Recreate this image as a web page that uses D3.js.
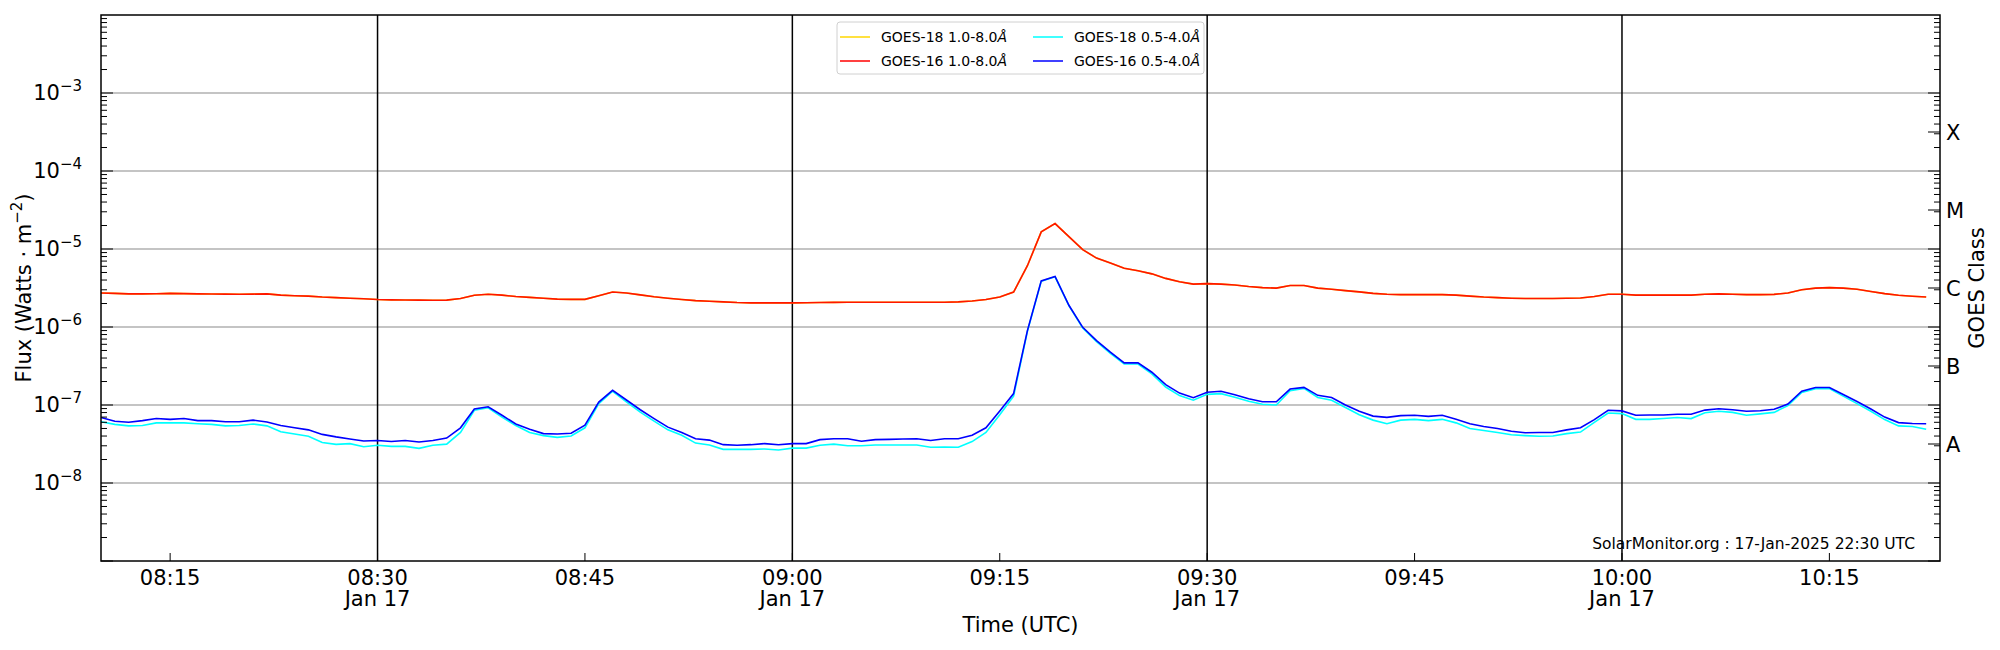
<!DOCTYPE html>
<html><head><meta charset="utf-8">
<script src="https://cdn.jsdelivr.net/npm/d3@7"></script>
<style>body{margin:0;background:#fff;} text{font-family:"DejaVu Sans",sans-serif;}</style>
</head><body><svg id="c" width="2000" height="650"></svg>
<script>
// one-minute samples starting 08:10 UTC, 17 Jan 2025
const startTime = "2025-01-17T08:10:00Z";
const unitLong = 1e-6, unitShort = 1e-8;
const goes16Long = [2.73,2.7,2.66,2.66,2.67,2.7,2.68,2.66,2.65,2.64,2.63,2.64,2.66,
2.56,2.52,2.49,2.42,2.38,2.34,2.3,2.25,2.23,2.22,2.21,2.2,2.21,
2.32,2.55,2.63,2.56,2.46,2.4,2.34,2.28,2.26,2.26,
2.52,2.81,2.73,2.58,2.44,2.34,2.25,2.18,2.14,2.1,2.06,2.04,2.04,2.04,2.04,
2.05,2.06,2.07,2.08,2.08,2.08,2.08,2.08,2.08,2.08,2.08,2.1,2.15,2.25,
2.43,2.8,6.1,16.6,21.2,14.4,9.8,7.65,6.6,5.65,5.25,4.8,4.2,3.8,3.55,3.6,3.55,3.45,3.3,3.2,3.15,3.4,3.4,3.15,
3.05,2.93,2.82,2.7,2.63,2.6,2.6,2.6,2.6,2.56,2.49,2.42,2.38,2.34,2.32,2.32,2.32,2.34,2.35,2.46,2.63,2.63,2.56,2.56,2.56,2.56,2.56,2.63,2.66,2.63,2.6,2.6,2.62,
2.73,3.0,3.15,3.2,3.15,3.05,2.85,2.68,2.55,2.48,2.42];
const goes18Long = goes16Long.slice();
const goes16Short = [6.9,6.2,6.0,6.3,6.7,6.55,6.7,6.3,6.3,6.1,6.1,6.4,6.05,
5.45,5.1,4.8,4.2,3.9,3.67,3.45,3.5,3.4,3.5,3.35,3.5,3.77,
5.1,8.9,9.5,7.4,5.7,4.9,4.3,4.25,4.35,5.5,
10.9,15.4,11.6,8.7,6.7,5.2,4.45,3.7,3.55,3.1,3.05,3.1,3.2,3.1,3.2,
3.2,3.6,3.7,3.7,3.43,3.6,3.63,3.67,3.7,3.5,3.7,3.7,4.1,5.1,
8.4,14,90,390,445,190,99,67,47.5,34.7,34.7,26.3,18.2,14.2,12.4,14.6,15,13.5,12,11,11,16,16.8,13.3,
12.5,10,8.3,7.2,6.95,7.3,7.4,7.15,7.4,6.55,5.75,5.3,5.0,4.6,4.4,4.45,4.45,4.8,5.1,6.5,8.55,8.4,7.4,7.45,7.45,7.6,7.6,8.6,8.95,8.7,8.3,8.45,8.8,
10.3,15,16.8,16.8,13.6,11.1,8.9,7.0,5.95,5.8,5.75];
const goes18Short = [6.1,5.65,5.4,5.45,5.9,5.9,5.9,5.75,5.65,5.4,5.45,5.7,5.4,
4.55,4.25,3.97,3.3,3.13,3.2,2.92,3.05,2.95,2.95,2.78,3.05,3.15,
4.45,8.55,9.2,7.0,5.45,4.45,4.05,3.85,4.0,5.1,
10.4,15,11,8.1,6.2,4.8,4.1,3.25,3.07,2.7,2.7,2.7,2.73,2.65,2.8,
2.8,3.05,3.15,3.0,3.0,3.07,3.07,3.07,3.07,2.87,2.9,2.87,3.4,4.45,
7.5,13,88,385,440,188,97,65,46,33.5,33.5,25,17,13.2,11.5,13.7,14,12.6,11.2,10.2,10,15.2,16.3,12.5,
11.5,9.3,7.5,6.4,5.75,6.4,6.55,6.3,6.55,5.9,5.0,4.7,4.45,4.15,4.05,3.97,4.0,4.3,4.5,6.0,7.9,7.75,6.55,6.55,6.7,6.9,6.7,7.95,8.3,8.05,7.4,7.7,8.05,
9.8,14.5,16.2,16.2,13,10.4,8.3,6.5,5.4,5.3,4.9];
const yTickExps = [-8,-7,-6,-5,-4,-3];
const classLabels = ["A","B","C","M","X"];
const classExps = [-7.5,-6.5,-5.5,-4.5,-3.5];
const xTickLabels = ["08:15","08:30","08:45","09:00","09:15","09:30","09:45","10:00","10:15"];
const dateTicks = ["08:30","09:00","09:30","10:00"];
const legendItems = [["GOES-18 1.0-8.0","#ffd700"],["GOES-16 1.0-8.0","#ff0000"],["GOES-18 0.5-4.0","#00ffff"],["GOES-16 0.5-4.0","#0000ff"]];

const svg = d3.select("#c");
const L=101, R=1940, T=15, B=561;
const t0 = new Date(startTime);
const tm = s => new Date(Date.UTC(2025,0,17,+s.slice(0,2),+s.slice(3,5)));
const x = d3.scaleUtc().domain([t0, new Date(Date.UTC(2025,0,17,10,23,0))]).range([L,R]);
const y = d3.scaleLog().domain([1e-9,1e-2]).range([B,T]);
const timeOf = i => new Date(t0.getTime()+i*60000);

// grid
yTickExps.forEach(e=>svg.append("line").attr("x1",L).attr("x2",R).attr("y1",y(10**e)).attr("y2",y(10**e)).attr("stroke","#b0b0b0").attr("stroke-width",1.3));
dateTicks.forEach(s=>svg.append("line").attr("x1",x(tm(s))).attr("x2",x(tm(s))).attr("y1",T).attr("y2",B).attr("stroke","#000").attr("stroke-width",1.5));

const line = d3.line().x((d,i)=>x(timeOf(i))).y(d=>y(d));
const g = svg.append("g");
[[goes18Long,unitLong,"#ffd700"],[goes16Long,unitLong,"#ff0000"],[goes18Short,unitShort,"#00ffff"],[goes16Short,unitShort,"#0000ff"]].forEach(([arr,u,c])=>{
  g.append("path").attr("d",line(arr.map(v=>v*u))).attr("fill","none").attr("stroke",c).attr("stroke-width",1.6).attr("opacity",c=="#ff0000"?0.9:1);
});

// frame
svg.append("rect").attr("x",L).attr("y",T).attr("width",R-L).attr("height",B-T).attr("fill","none").attr("stroke","#000").attr("stroke-width",1.5);

// y ticks (inside), both sides
for(let e=-9;e<-2;e++){
  for(let m=1;m<10;m++){
    const v=m*10**e; const yy=y(v); if(yy<T-0.5) continue;
    const len = m==1?12:6;
    svg.append("line").attr("x1",L).attr("x2",L+len).attr("y1",yy).attr("y2",yy).attr("stroke","#000");
    svg.append("line").attr("x1",R).attr("x2",R-len).attr("y1",yy).attr("y2",yy).attr("stroke","#000");
  }
}
yTickExps.forEach(e=>{
  const t=svg.append("text").attr("x",82).attr("y",y(10**e)+7).attr("text-anchor","end").attr("font-size",21);
  t.append("tspan").text("10");
  t.append("tspan").attr("dy",-9).attr("font-size",15).text("\u2212"+(-e));
});
classLabels.forEach((c,i)=>{
  svg.append("line").attr("x1",R).attr("x2",R-12).attr("y1",y(10**classExps[i])).attr("y2",y(10**classExps[i])).attr("stroke","#000");
  svg.append("text").attr("x",1946).attr("y",y(10**classExps[i])+8).attr("font-size",21).text(c);
});
svg.append("text").attr("transform","translate(1984,288) rotate(-90)").attr("text-anchor","middle").attr("font-size",21).text("GOES Class");
svg.append("text").attr("transform","translate(31,288) rotate(-90)").attr("text-anchor","middle").attr("font-size",21)
  .html('Flux (Watts \u00b7 m<tspan dy="-9" font-size="15">\u22122</tspan><tspan dy="9">)</tspan>');

// x ticks
xTickLabels.forEach(s=>{
  const xx=x(tm(s));
  svg.append("line").attr("x1",xx).attr("x2",xx).attr("y1",B).attr("y2",B-8).attr("stroke","#000");
  svg.append("text").attr("x",xx).attr("y",585).attr("text-anchor","middle").attr("font-size",21).text(s);
  if(dateTicks.includes(s)) svg.append("text").attr("x",xx).attr("y",606).attr("text-anchor","middle").attr("font-size",21).text("Jan 17");
});
svg.append("text").attr("x",(L+R)/2).attr("y",632).attr("text-anchor","middle").attr("font-size",21).text("Time (UTC)");

// legend
svg.append("rect").attr("x",837).attr("y",22).attr("width",367).attr("height",52).attr("rx",3).attr("fill","#fff").attr("stroke","#d0d0d0");
legendItems.forEach(([lab,c],i)=>{
  const cx = i<2?840:1033, cy = i%2==0?37:61;
  svg.append("line").attr("x1",cx).attr("x2",cx+30).attr("y1",cy).attr("y2",cy).attr("stroke",c).attr("stroke-width",1.5);
  const t=svg.append("text").attr("x",cx+41).attr("y",cy+5).attr("font-size",14).text(lab);
  t.append("tspan").attr("font-style","italic").text("\u00c5");
});
svg.append("text").attr("x",1915).attr("y",549).attr("text-anchor","end").attr("font-size",15.5).text("SolarMonitor.org : 17-Jan-2025 22:30 UTC");
</script></body></html>
